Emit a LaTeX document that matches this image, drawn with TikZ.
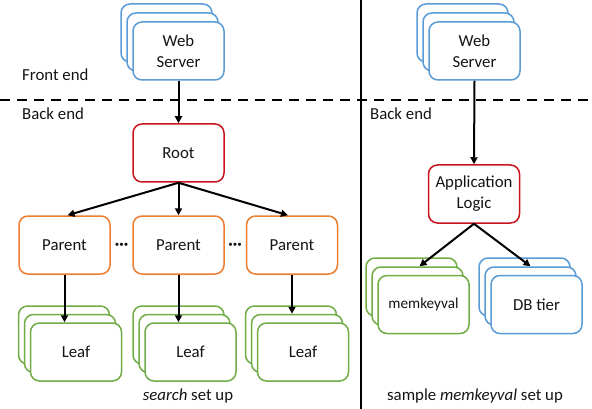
\documentclass[tikz,border=0pt]{standalone}
\usepackage{fontspec}
\setmainfont{Carlito}
\usetikzlibrary{arrows.meta}
\definecolor{cblue}{RGB}{91,155,213}
\definecolor{cred}{RGB}{200,20,30}
\definecolor{corange}{RGB}{237,125,49}
\definecolor{cgreen}{RGB}{112,173,71}
\definecolor{ctext}{RGB}{20,20,20}
\begin{document}
\begin{tikzpicture}[x=1pt,y=-1pt,
  font=\fontsize{16.8}{21}\selectfont, text=ctext,
  box/.style={draw, fill=white, rounded corners=9pt, line width=1.5pt,
    minimum width=91pt, minimum height=58pt, inner sep=0pt, align=center},
  bluebox/.style={box, draw=cblue},
  redbox/.style={box, draw=cred},
  orangebox/.style={box, draw=corange},
  greenbox/.style={box, draw=cgreen},
  arr/.style={-{Triangle[length=7pt,width=7pt]}, line width=2pt},
  lbl/.style={inner sep=0pt},
  sepline/.style={line width=1.3pt},
  dashline/.style={line width=2pt, dash pattern=on 10pt off 7pt},
]
\path[use as bounding box] (0,0) rectangle (592,409);

% separators
\coordinate (vtop) at (361,0);
\coordinate (vbot) at (361,409);
\draw[sepline] (vtop) -- (vbot);
\coordinate (dl) at (0,100);
\coordinate (dr) at (592,100);
\draw[dashline] (dl) -- (dr);

% labels
\node[lbl, anchor=west] (fe) at (22,75) {Front end};
\node[lbl, anchor=west] (be1) at (22,114) {Back end};
\node[lbl, anchor=west] (be2) at (370,114) {Back end};

% left web servers
\node[bluebox] (ws1c) at (166.5,33) {};
\node[bluebox] (ws1b) at (172.5,42) {};
\node[bluebox] (ws1) at (178.5,51) {Web\\Server};

% root
\node[redbox] (root) at (178.5,153) {Root};

% parents
\node[orangebox] (p1) at (64.5,245) {Parent};
\node[orangebox] (p2) at (178.5,245) {Parent};
\node[orangebox] (p3) at (292,245) {Parent};
\node[lbl] (d1) at (121.5,246) {\textbf{···}};
\node[lbl] (d2) at (235,246) {\textbf{···}};

% leaves
\node[greenbox] (l1c) at (64,335) {};
\node[greenbox] (l1b) at (70,343.5) {};
\node[greenbox] (l1) at (76,352) {Leaf};
\node[greenbox] (l2c) at (178.5,335) {};
\node[greenbox] (l2b) at (184.5,343.5) {};
\node[greenbox] (l2) at (190.5,352) {Leaf};
\node[greenbox] (l3c) at (291,335) {};
\node[greenbox] (l3b) at (297,343.5) {};
\node[greenbox] (l3) at (303,352) {Leaf};

\node[lbl] (cap1) at (188,396) {\textit{search} set up};

% left arrows
\draw[arr] (ws1.south) -- (root.north);
\draw[arr] (root.south) -- ([xshift=3pt]p1.north);
\draw[arr] (root.south) -- (p2.north);
\draw[arr] (root.south) -- ([xshift=-4pt]p3.north);
\draw[arr] (p1.south) -- (p1.south |- l1.north);
\draw[arr] (p2.south) -- (p2.south |- l2.north);
\draw[arr] (p3.south) -- (p3.south |- l3b.north);

% right side
\node[bluebox] (ws2c) at (462.5,33) {};
\node[bluebox] (ws2b) at (468.5,42) {};
\node[bluebox] (ws2) at (474.5,51) {Web\\Server};

\node[redbox] (app) at (474,194) {Application\\Logic};

\node[greenbox] (mc) at (411.5,287) {};
\node[greenbox] (mb) at (417.5,296) {};
\node[greenbox, font=\fontsize{15.2}{18}\selectfont] (m) at (423.5,304.5) {memkeyval};
\node[bluebox] (dc) at (524.5,287) {};
\node[bluebox] (db) at (530.5,296) {};
\node[bluebox] (d) at (536.5,304.5) {DB tier};

\node[lbl] (cap2) at (475,396) {sample \textit{memkeyval} set up};

\draw[arr] (ws2.south) -- (app.north);
\draw[arr] (app.south) -- ([xshift=2pt]mb.north);
\draw[arr] (app.south) -- (db.north);
\end{tikzpicture}
\end{document}
